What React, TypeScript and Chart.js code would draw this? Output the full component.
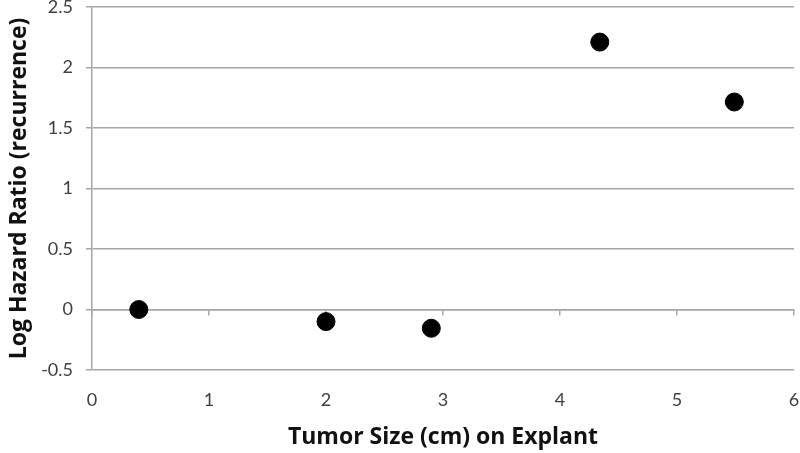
import React, { useEffect, useRef } from "react";
import { Chart, registerables } from "chart.js";

Chart.register(...registerables);

const tumorSize = [0.4, 2.0, 2.9, 4.34, 5.49];
const logHazard = [0.0, -0.1, -0.155, 2.21, 1.715];
const xTitle = "Tumor Size (cm) on Explant";
const yTitle = "Log Hazard Ratio (recurrence)";

const TICK_FONT = "Lato, 'Open Sans', sans-serif";
const TITLE_FONT = "'Open Sans', Lato, sans-serif";
const GRID = "#a6a6a6";

const zeroPadX = (s: any) => {
  s.paddingLeft = 0;
  s.paddingRight = 0;
};

export default function App() {
  const ref = useRef<HTMLCanvasElement | null>(null);
  useEffect(() => {
    if (!ref.current) return;
    const chart = new Chart(ref.current, {
      type: "scatter",
      data: {
        datasets: [
          {
            data: tumorSize.map((x, i) => ({ x, y: logHazard[i] })),
            backgroundColor: "#000",
            borderColor: "#000",
            pointRadius: 9,
            pointHoverRadius: 9,
            xAxisID: "x",
            yAxisID: "y",
          },
        ],
      },
      options: {
        animation: false,
        responsive: false,
        layout: { autoPadding: false, padding: { left: 0, top: 7, right: 6, bottom: 0 } },
        plugins: { legend: { display: false }, tooltip: { enabled: false } },
        scales: {
          x: {
            type: "linear",
            position: "bottom",
            min: 0,
            max: 6,
            border: { display: false },
            grid: { display: false, drawTicks: false },
            ticks: { stepSize: 1, padding: 19, color: "#404040", font: { family: TICK_FONT, size: 18 } },
            title: {
              display: true,
              text: xTitle,
              color: "#111",
              font: { family: TITLE_FONT, size: 23, weight: "bold" },
              padding: { top: 0, bottom: 2 },
            },
            afterFit: (s: any) => {
              s.height = 83;
              zeroPadX(s);
            },
          },
          x2: {
            type: "linear",
            position: { y: 0 } as any,
            min: 0,
            max: 6,
            border: { display: true, color: GRID, width: 1.5 },
            grid: { drawOnChartArea: false, drawTicks: true, tickLength: 5, color: GRID, lineWidth: 1.5 },
            ticks: { stepSize: 1, display: false },
            afterFit: (s: any) => {
              zeroPadX(s);
              s.paddingTop = 0;
              s.paddingBottom = 0;
            },
          },
          y: {
            type: "linear",
            min: -0.5,
            max: 2.5,
            border: { display: true, color: GRID, width: 1.5 },
            grid: { color: GRID, lineWidth: 1.5, tickLength: 6 },
            ticks: {
              stepSize: 0.5,
              padding: 13,
              color: "#404040",
              font: { family: TICK_FONT, size: 18 },
              callback: (v: any) => String(Number(v)),
            },
            title: {
              display: true,
              text: yTitle,
              color: "#111",
              font: { family: TITLE_FONT, size: 23, weight: "bold" },
              padding: { top: 6, bottom: 0 },
            },
            afterFit: (s: any) => {
              s.width = 92;
              s.paddingTop = 0;
              s.paddingBottom = 0;
            },
          },
        },
      },
    });
    return () => chart.destroy();
  }, []);
  return (
    <div style={{ position: "fixed", left: 0, top: 0, width: 800, height: 453, background: "#fff" }}>
      <canvas ref={ref} width={800} height={453} style={{ width: 800, height: 453 }} />
    </div>
  );
}
